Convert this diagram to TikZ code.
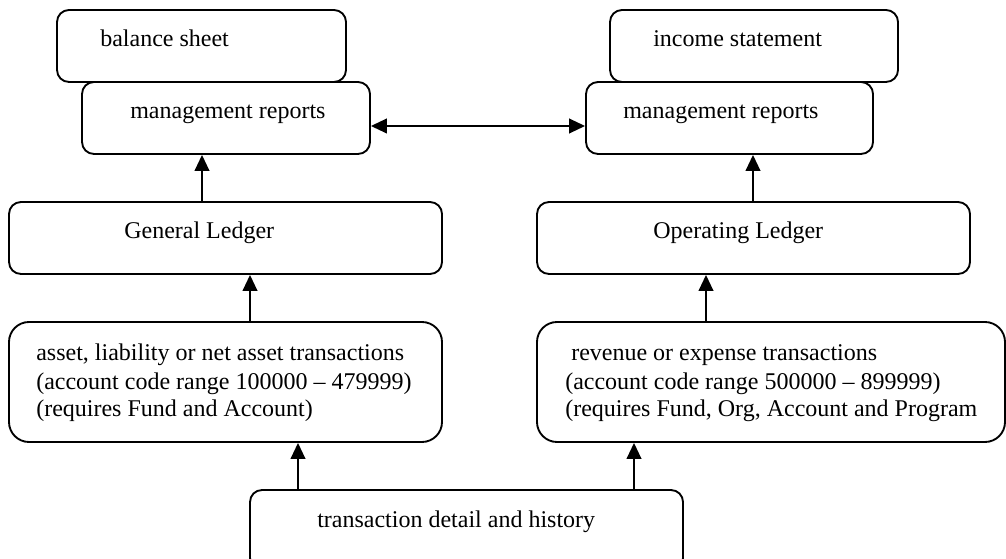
\documentclass[tikz,border=0pt]{standalone}
\usepackage{fontspec}
\setmainfont{Liberation Serif}
\usetikzlibrary{fit,arrows.meta}
\begin{document}
\begin{tikzpicture}[x=0.75pt,y=-0.75pt,
  box/.style={draw=black,fill=white,line width=1.4pt,inner sep=0pt,rectangle},
  txt/.style={anchor=base west,inner sep=0pt,font=\fontsize{18pt}{20.7pt}\selectfont},
  arr/.style={line width=1.4pt,-{Triangle[length=12pt,width=11pt]}},
  darr/.style={line width=1.4pt,{Triangle[length=12pt,width=11pt]}-{Triangle[length=12pt,width=11pt]}}]
\useasboundingbox (0,0) rectangle (1006,559);
% top boxes
\node[box,rounded corners=9pt,fit={(57,10) (346,82)}] (bs) {};
\node[box,rounded corners=9pt,fit={(82,82) (370,154)}] (mgl) {};
\node[box,rounded corners=9pt,fit={(610,10) (898,82)}] (is) {};
\node[box,rounded corners=9pt,fit={(586,82) (873,154)}] (mgr) {};
% ledgers
\node[box,rounded corners=9pt,fit={(9,202) (442,274)}] (gl) {};
\node[box,rounded corners=9pt,fit={(537,202) (970,274)}] (ol) {};
% transaction boxes
\node[box,rounded corners=15pt,fit={(9,322) (442,442)}] (at) {};
\node[box,rounded corners=15pt,fit={(537,322) (1005,442)}] (rt) {};
\node[box,rounded corners=9pt,fit={(250,490) (683,570)}] (td) {};
% texts
\node[txt] (bst) at (100,47) {balance sheet};
\node[txt] (mglt) at (130,119) {management reports};
\node[txt] (ist) at (653,47) {income statement};
\node[txt] (mgrt) at (623,119) {management reports};
\node[txt] (glt) at (124,239) {General Ledger};
\node[txt] (olt) at (653,239) {Operating Ledger};
\node[txt] (at1) at (36,361) {asset, liability or net asset transactions};
\node[txt] (at2) at (36,389) {(account code range 100000 -- 479999)};
\node[txt] (at3) at (36,416) {(requires Fund and Account)};
\node[txt] (rt1) at (571,361) {revenue or expense transactions};
\node[txt] (rt2) at (565,389) {(account code range 500000 -- 899999)};
\node[txt] (rt3) at (565,416) {(requires Fund, Org, Account and Program};
\node[txt] (tdt) at (317,527) {transaction detail and history};
% connector positions
\coordinate (c1) at (202,0);
\coordinate (c2) at (250,0);
\coordinate (c3) at (753,0);
\coordinate (c4) at (706,0);
\coordinate (c5) at (298,0);
\coordinate (c6) at (634,0);
\coordinate (c7) at (0,126);
% connectors
\draw[arr] (gl.north -| c1) -- (mgl.south -| c1);
\draw[arr] (at.north -| c2) -- (gl.south -| c2);
\draw[arr] (ol.north -| c3) -- (mgr.south -| c3);
\draw[arr] (rt.north -| c4) -- (ol.south -| c4);
\draw[arr] (td.north -| c5) -- (at.south -| c5);
\draw[arr] (td.north -| c6) -- (rt.south -| c6);
\draw[darr] (mgl.east |- c7) -- (mgr.west |- c7);
\end{tikzpicture}
\end{document}
